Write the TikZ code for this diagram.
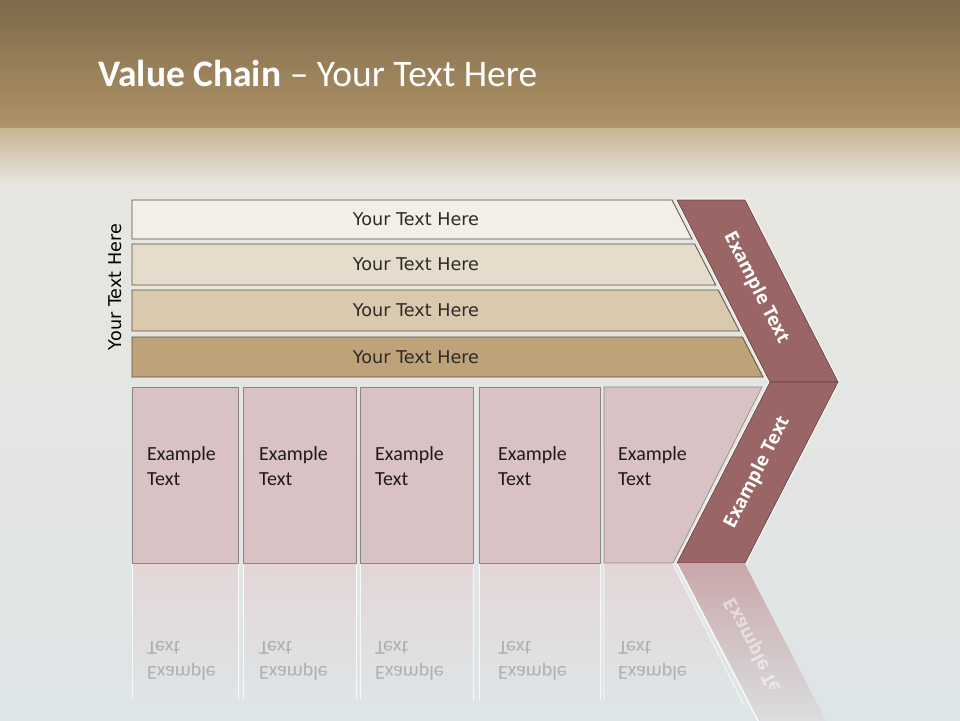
\documentclass[tikz,border=0pt]{standalone}
\usepackage{fontspec}
\usepackage{graphicx}
\setmainfont{Carlito}
\newfontfamily\barfamily{DejaVu Sans}
\newfontfamily\chevfamily{Open Sans}
\definecolor{headtop}{HTML}{7D6A4A}
\definecolor{headbot}{HTML}{B09367}
\definecolor{headfade}{HTML}{C8B592}
\definecolor{slidelight}{HTML}{E8E6E0}
\definecolor{slidebg}{HTML}{DEE5E7}
\definecolor{barone}{HTML}{F2EEE8}
\definecolor{bartwo}{HTML}{E6DCCC}
\definecolor{barthree}{HTML}{D9C9AE}
\definecolor{barfour}{HTML}{BEA37A}
\definecolor{barline}{HTML}{5E4F3C}
\definecolor{boxfill}{HTML}{D8C2C4}
\definecolor{boxline}{HTML}{8C8585}
\definecolor{boxtext}{HTML}{1E1A1A}
\definecolor{chevfill}{HTML}{9A6565}
\definecolor{chevline}{HTML}{6A4040}
\definecolor{textdark}{HTML}{2E2A26}
\definecolor{reflbox}{HTML}{E4D6D7}
\definecolor{reflchev}{HTML}{C9A8AA}
\colorlet{glow}{white!75!slidebg}
\newcommand{\titlefont}{\fontsize{37.5}{42}\selectfont}
\newcommand{\barfont}{\barfamily\fontsize{17.6}{20}\selectfont}
\newcommand{\boxfont}{\fontsize{20}{25}\selectfont}
\newcommand{\chevfont}{\chevfamily\bfseries\fontsize{18.5}{22}\selectfont}
\newcommand{\slantx}[1]{672+(#1-200)*0.514}
\newcommand{\chainbar}[5]{%
  \draw[barline,line width=0.8pt,fill=#4] (132,#2) -- ({\slantx{#2}},#2)
    -- ({\slantx{#3}},#3) -- (132,#3) -- cycle;
  \node[inner sep=0pt,text=textdark] (#1) at (416,{(#2+#3)/2}) {\barfont #5};
}
\newcommand{\mirrortext}[4]{%
  \node[anchor=base west,inner sep=0pt,text=boxtext,opacity=0.25] (#1) at (#2,#3)
    {\boxfont\scalebox{1}[-1]{#4}};
}
\newcommand{\chainbox}[4]{%
  \draw[boxline,line width=0.6pt,fill=boxfill] (#2,387) rectangle (#3,563);
  \node[anchor=base west,inner sep=0pt,text=boxtext] (#1a) at (#4,460) {\boxfont Example};
  \node[anchor=base west,inner sep=0pt,text=boxtext] (#1b) at (#4,485) {\boxfont Text};
  \shade[top color=reflbox,bottom color=slidebg] (#2,564) rectangle (#3,705);
  \draw[glow,line width=0.8pt] (#2,564) -- (#2,700) (#3,564) -- (#3,700);
  \mirrortext{#1c}{#4}{641}{Text}
  \mirrortext{#1d}{#4}{666}{Example}
}

\begin{document}
\begin{tikzpicture}[x=1pt,y=-1pt]
  \useasboundingbox (0,0) rectangle (960,720);

  % backdrop
  \fill[slidebg] (0,0) rectangle (960,720);
  \shade[top color=headtop,bottom color=headbot] (0,0) rectangle (960,128);
  \shade[top color=headfade,bottom color=slidelight] (0,128) rectangle (960,185);
  \shade[top color=slidelight,bottom color=slidebg] (0,185) rectangle (960,720);

  \node[anchor=base west,inner sep=0pt,text=white] (title) at (98,86)
    {\titlefont\textbf{Value Chain} \textendash{} Your Text Here};

  \node[rotate=90,inner sep=0pt,text=black] (side) at (115,287) {\barfont Your Text Here};

  \chainbar{bar1}{200}{239}{barone}{Your Text Here}
  \chainbar{bar2}{244}{285}{bartwo}{Your Text Here}
  \chainbar{bar3}{290}{331}{barthree}{Your Text Here}
  \chainbar{bar4}{337}{377}{barfour}{Your Text Here}

  \chainbox{box1}{132}{238}{147}
  \chainbox{box2}{243}{356}{259}
  \chainbox{box3}{360}{473}{375}
  \chainbox{box4}{479}{600}{498}

  % last box has a slanted side
  \draw[boxline,line width=0.6pt,fill=boxfill] (604,387) -- (762,387) -- (673,563) -- (604,563) -- cycle;
  \node[anchor=base west,inner sep=0pt,text=boxtext] (box5a) at (618,460) {\boxfont Example};
  \node[anchor=base west,inner sep=0pt,text=boxtext] (box5b) at (618,485) {\boxfont Text};
  \shade[top color=reflbox,bottom color=slidebg] (604,564) -- (673,564) -- (744,705) -- (604,705) -- cycle;
  \draw[glow,line width=0.8pt] (604,564) -- (604,700) (673,564) -- (744,705);
  \mirrortext{box5c}{618}{641}{Text}
  \mirrortext{box5d}{618}{666}{Example}

  % chevron
  \coordinate (ctl) at (677,200);
  \coordinate (ctr) at (745,200);
  \coordinate (ctip) at (838,382);
  \coordinate (cin) at (770,382);
  \coordinate (cbl) at (677,563);
  \coordinate (cbr) at (745,563);
  \draw[glow,line width=3pt,line join=round] (ctl) -- (ctr) -- (ctip) -- (cbr) -- (cbl) -- (cin) -- cycle;
  \draw[chevline,line width=0.6pt,fill=chevfill] (ctl) -- (ctr) -- (ctip) -- (cin) -- cycle;
  \draw[chevline,line width=0.6pt,fill=chevfill] (cin) -- (ctip) -- (cbr) -- (cbl) -- cycle;
  \node[rotate=-62.94,inner sep=0pt,text=white] (chevup) at (756,288) {\chevfont Example Text};
  \node[rotate=62.94,inner sep=0pt,text=white] (chevlow) at (757.5,472.5) {\chevfont Example Text};

  % chevron reflection
  \shade[top color=reflchev,bottom color=slidebg] (677,564) -- (745,564) -- (838,744) -- (770,744) -- cycle;
  \draw[glow,line width=1.5pt] (677,564) -- (770,744);
  \begin{scope}
    \clip (0,564) rectangle (960,688);
    \node[rotate=-62.94,inner sep=0pt,text=white,opacity=0.5] (chevmir) at (757.5,653.5)
      {\chevfont\scalebox{1}[-1]{Example Text}};
  \end{scope}
\end{tikzpicture}
\end{document}
